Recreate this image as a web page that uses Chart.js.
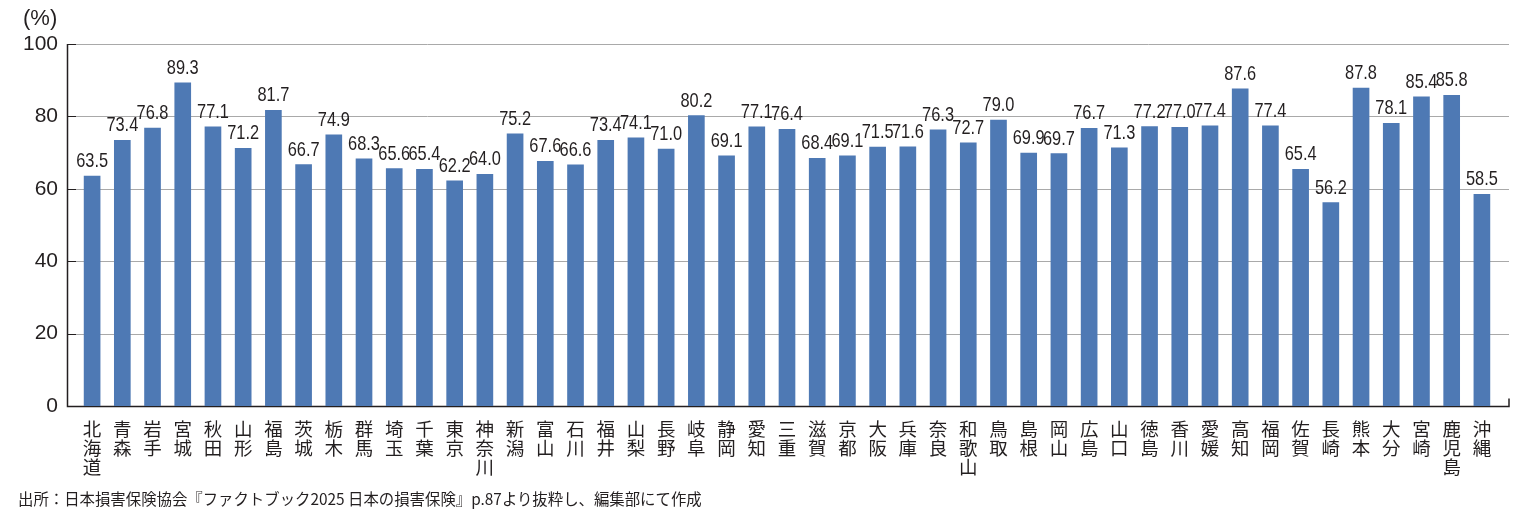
<!DOCTYPE html>
<html lang="ja">
<head>
<meta charset="utf-8">
<script src="https://cdn.jsdelivr.net/npm/chart.js@4.4.0/dist/chart.umd.min.js"></script>
<style>
  html, body { margin: 0; padding: 0; background: #fff; }
  #wrap { position: relative; width: 1523px; height: 516px; }
  #unit { position: absolute; left: 23px; top: 5px; font: 22px 'Liberation Sans', Arial, sans-serif; color: #231f20; }
  #source { position: absolute; left: 18px; top: 487px; font: 15.4px 'Noto Sans CJK JP', sans-serif; color: #231f20; }
</style>
</head>
<body>
<div id="wrap">
  <canvas id="chart" width="1523" height="516"></canvas>
  <div id="unit">(%)</div>
  <div id="source">出所：日本損害保険協会『ファクトブック2025 日本の損害保険』p.87より抜粋し、編集部にて作成</div>
</div>
<script>
const prefectures = ['北海道', '青森', '岩手', '宮城', '秋田', '山形', '福島', '茨城', '栃木', '群馬',
    '埼玉', '千葉', '東京', '神奈川', '新潟', '富山', '石川', '福井', '山梨', '長野',
    '岐阜', '静岡', '愛知', '三重', '滋賀', '京都', '大阪', '兵庫', '奈良', '和歌山',
    '鳥取', '島根', '岡山', '広島', '山口', '徳島', '香川', '愛媛', '高知', '福岡',
    '佐賀', '長崎', '熊本', '大分', '宮崎', '鹿児島', '沖縄'];

const rates = [63.5, 73.4, 76.8, 89.3, 77.1, 71.2, 81.7, 66.7, 74.9, 68.3,
    65.6, 65.4, 62.2, 64.0, 75.2, 67.6, 66.6, 73.4, 74.1, 71.0,
    80.2, 69.1, 77.1, 76.4, 68.4, 69.1, 71.5, 71.6, 76.3, 72.7,
    79.0, 69.9, 69.7, 76.7, 71.3, 77.2, 77.0, 77.4, 87.6, 77.4,
    65.4, 56.2, 87.8, 78.1, 85.4, 85.8, 58.5];

const yTicks = [0, 20, 40, 60, 80, 100];

const AXIS_LEFT = 67;
const AXIS_RIGHT = 1509;
const textColor = '#231f20';

// gridlines and axes span wider than the bar area, so draw them by hand
const frame = {
    id: 'frame',
    beforeDatasetsDraw(chart) {
        const c = chart.ctx;
        const y = chart.scales.y;
        c.save();
        c.lineWidth = 1;
        yTicks.forEach(v => {
            if (v === 0) return;
            const py = Math.round(y.getPixelForValue(v)) + 0.5;
            c.strokeStyle = '#a9a9a9';
            c.beginPath();
            c.moveTo(AXIS_LEFT, py);
            c.lineTo(AXIS_RIGHT, py);
            c.stroke();
            c.strokeStyle = textColor;
            c.beginPath();
            c.moveTo(AXIS_LEFT, py);
            c.lineTo(AXIS_LEFT + 9, py);
            c.stroke();
        });
        const top = Math.round(y.getPixelForValue(100));
        const bottom = Math.round(y.getPixelForValue(0)) + 0.5;
        c.strokeStyle = textColor;
        c.lineWidth = 1.5;
        c.beginPath();
        c.moveTo(AXIS_LEFT + 0.5, top);
        c.lineTo(AXIS_LEFT + 0.5, bottom);
        c.lineTo(AXIS_RIGHT, bottom);
        c.lineTo(AXIS_RIGHT, bottom - 8);
        c.stroke();
        c.restore();
    },
    afterDatasetsDraw(chart) {
        const c = chart.ctx;
        const meta = chart.getDatasetMeta(0);
        c.fillStyle = textColor;
        c.font = "21px 'Liberation Sans', Arial, sans-serif";
        c.textAlign = 'center';
        c.textBaseline = 'alphabetic';
        meta.data.forEach((bar, i) => {
            // condensed look of the original labels
            c.save();
            c.translate(bar.x, bar.y - 9);
            c.scale(0.78, 1);
            c.fillText(rates[i].toFixed(1), 0, 0);
            c.restore();
        });
    }
};

new Chart(document.getElementById('chart'), {
    type: 'bar',
    data: {
        labels: prefectures.map(p => p.split('')),
        datasets: [{
            data: rates,
            backgroundColor: '#4e79b4',
            barThickness: 16
        }]
    },
    options: {
        responsive: false,
        animation: false,
        layout: { padding: { top: 44, right: 26, left: 0, bottom: 0 } },
        plugins: { legend: { display: false }, tooltip: { enabled: false } },
        scales: {
            x: {
                offset: true,
                border: { display: false },
                grid: { display: false },
                afterFit: s => { s.height = 110; },
                ticks: {
                    autoSkip: false,
                    maxRotation: 0,
                    padding: 5,
                    color: textColor,
                    font: { family: "'Noto Sans CJK JP', sans-serif", size: 18.5, lineHeight: 1.03 }
                }
            },
            y: {
                min: 0,
                max: 100,
                border: { display: false },
                grid: { display: false, drawTicks: false },
                afterFit: s => { s.width = 77; },
                afterBuildTicks: s => { s.ticks = yTicks.map(v => ({ value: v })); },
                ticks: {
                    padding: 19,
                    color: textColor,
                    font: { family: "'Liberation Sans', Arial, sans-serif", size: 21 }
                }
            }
        }
    },
    plugins: [frame]
});
</script>
</body>
</html>
